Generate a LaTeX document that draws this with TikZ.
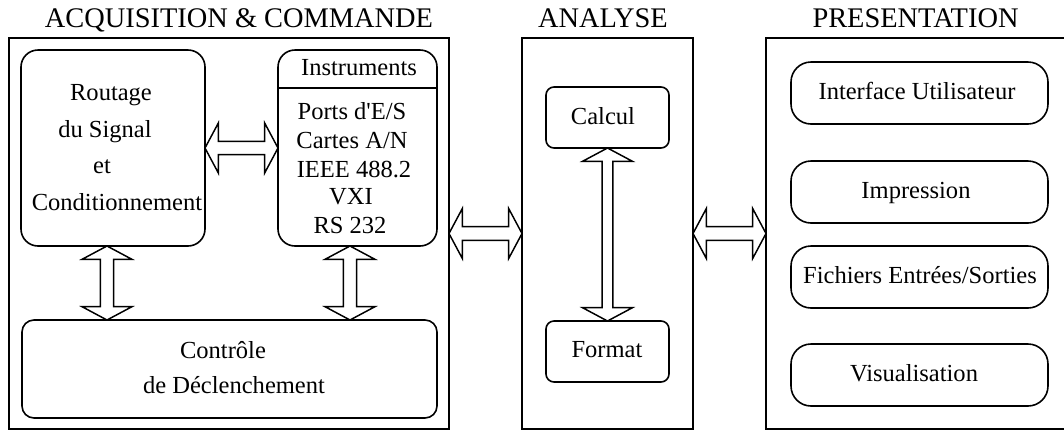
\documentclass[tikz,border=0pt]{standalone}
\usepackage{fontspec}
\setmainfont{Liberation Serif}[Ligatures=TeXOff]
\usetikzlibrary{calc}
\tikzset{
  bigbox/.style={draw, line width=1pt, inner sep=0pt, outer sep=0pt, anchor=north west},
  rbox/.style={draw, line width=1.2pt, inner sep=0pt, outer sep=0pt, anchor=north west, rounded corners=#1},
  txt/.style={font=\fontsize{18.4}{22}\selectfont, inner sep=0pt, anchor=base},
  ttl/.style={font=\fontsize{21.3}{25}\selectfont, inner sep=0pt, anchor=base},
  dbl/.style={draw, line width=1.1pt, fill=white, line join=miter}
}
\newcommand\hdbl[3]{%
  \draw[dbl] let \p1=(#1), \p2=(#2) in
  (\x1,\y1) -- (\x1+10pt,\y1+18.75pt) -- (\x1+10pt,\y1+#3) -- (\x2-10pt,\y1+#3)
  -- (\x2-10pt,\y1+18.75pt) -- (\x2,\y1) -- (\x2-10pt,\y1-18.75pt) -- (\x2-10pt,\y1-#3)
  -- (\x1+10pt,\y1-#3) -- (\x1+10pt,\y1-18.75pt) -- cycle;}
\newcommand\vdbl[3]{%
  \draw[dbl] let \p1=(#1), \p2=(#2) in
  (\x1,\y1) -- (\x1+18.75pt,\y1-10pt) -- (\x1+#3,\y1-10pt) -- (\x1+#3,\y2+10pt)
  -- (\x1+18.75pt,\y2+10pt) -- (\x1,\y2) -- (\x1-18.75pt,\y2+10pt) -- (\x1-#3,\y2+10pt)
  -- (\x1-#3,\y1-10pt) -- (\x1-18.75pt,\y1-10pt) -- cycle;}
\begin{document}
\begin{tikzpicture}[x=0.75pt,y=-0.75pt]
\useasboundingbox (0,0) rectangle (1064,430);
% titles
\node[ttl] (t1) at (239,27) {ACQUISITION \& COMMANDE};
\node[ttl] (t2) at (603,27) {ANALYSE};
\node[ttl] (t3) at (915.5,27) {PRESENTATION};
% big boxes
\node[bigbox, minimum width=330pt, minimum height=293.25pt] (L) at (9,38) {};
\node[bigbox, minimum width=128.25pt, minimum height=293.25pt] (M) at (522,38) {};
\node[bigbox, minimum width=228pt, minimum height=293.25pt] (R) at (766,38) {};
% acquisition boxes
\node[rbox=12.75pt, minimum width=138pt, minimum height=147pt] (rout) at (21,50) {};
\node[rbox=12.75pt, minimum width=119.25pt, minimum height=147pt] (inst) at (278,50) {};
\node[rbox=9pt, minimum width=311.25pt, minimum height=73.5pt] (ctrl) at (22,320) {};
\coordinate (div) at (0,88);
\draw[line width=1.2pt] (inst.west |- div) -- (inst.east |- div);
% analyse boxes
\node[rbox=6pt, minimum width=92.25pt, minimum height=45.75pt] (calc) at (546,87) {};
\node[rbox=6pt, minimum width=92.25pt, minimum height=45.75pt] (fmt) at (546,321) {};
% presentation boxes
\node[rbox=15pt, minimum width=192.75pt, minimum height=46.5pt] (ui) at (791,62) {};
\node[rbox=15pt, minimum width=192.75pt, minimum height=46.5pt] (imp) at (791,161) {};
\node[rbox=15pt, minimum width=192.75pt, minimum height=46.5pt] (fic) at (791,246) {};
\node[rbox=15pt, minimum width=192.75pt, minimum height=46.5pt] (vis) at (791,344) {};
% texts
\node[txt] (r1) at (111,100) {Routage};
\node[txt] (r2) at (105,137) {du Signal};
\node[txt] (r3) at (102,173) {et};
\node[txt] (r4) at (117,210) {Conditionnement};
\node[txt] (i0) at (359,75) {Instruments};
\node[txt] (i1) at (352,119) {Ports d'E/S};
\node[txt] (i2) at (352,148) {Cartes A/N};
\node[txt] (i3) at (354,177) {IEEE 488.2};
\node[txt] (i4) at (351,204) {VXI};
\node[txt] (i5) at (350,233) {RS 232};
\node[txt] (c1) at (223,358) {Contrôle};
\node[txt] (c2) at (234,393) {de Déclenchement};
\node[txt] (ca) at (603,124) {Calcul};
\node[txt] (fo) at (607,357) {Format};
\node[txt] (p1) at (917,99) {Interface Utilisateur};
\node[txt] (p2) at (916,198) {Impression};
\node[txt] (p3) at (920,283) {Fichiers Entrées/Sorties};
\node[txt] (p4) at (914,381) {Visualisation};
% arrows
\coordinate (ya) at (0,148);
\coordinate (xa) at (107,0);
\coordinate (xb) at (350,0);
\hdbl{rout.east |- ya}{inst.west |- ya}{4.9pt}
\vdbl{rout.south -| xa}{ctrl.north -| xa}{4.9pt}
\vdbl{inst.south -| xb}{ctrl.north -| xb}{4.9pt}
\vdbl{calc.south}{fmt.north}{4.1pt}
\hdbl{L.east}{M.west}{5.2pt}
\hdbl{M.east}{R.west}{5.2pt}
\end{tikzpicture}
\end{document}
